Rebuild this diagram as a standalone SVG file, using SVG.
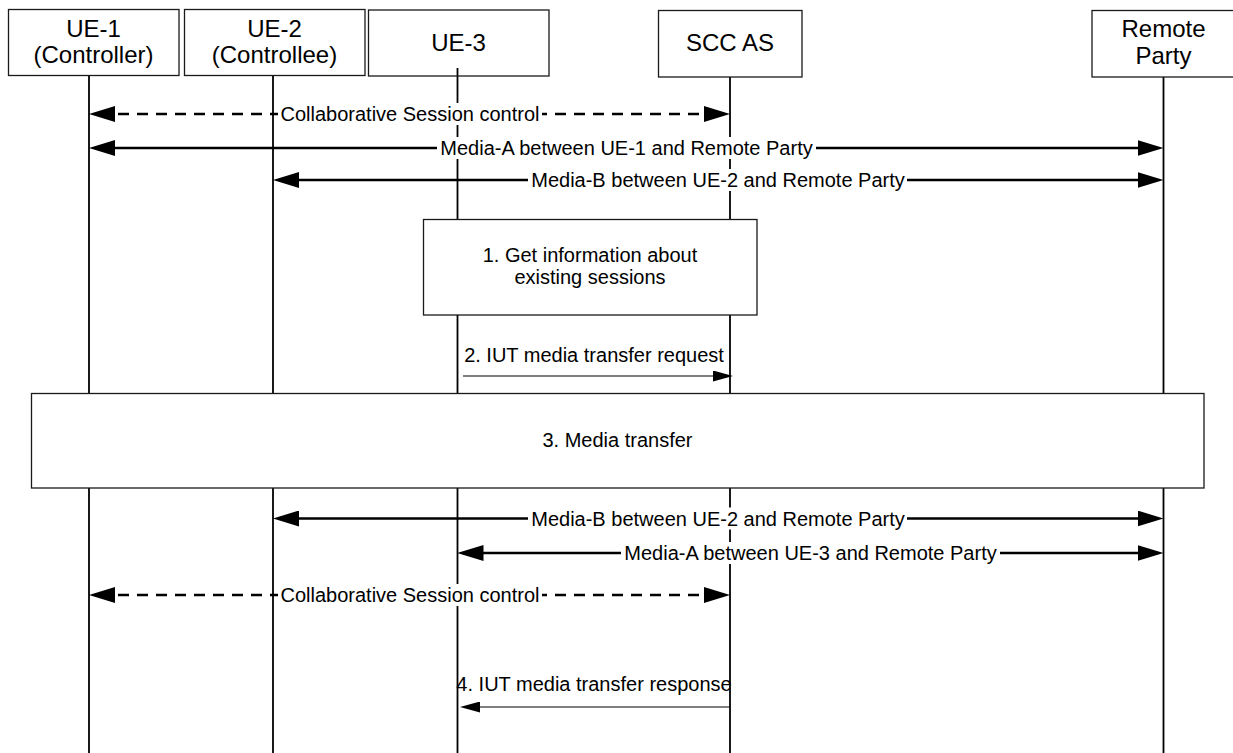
<svg xmlns="http://www.w3.org/2000/svg" width="1233" height="753" viewBox="0 0 1233 753">
  <style>
    .hdr { fill: #ffffff; stroke: #1a1a1a; stroke-width: 1.3; }
    .box { fill: #ffffff; stroke: #1a1a1a; stroke-width: 1.3; }
    .life { stroke: #000000; stroke-width: 1.8; fill: none; }
    .ht { font-family: "Liberation Sans", Arial, sans-serif; font-size: 24px; fill: #000000; text-anchor: middle; }
    .lt { font-family: "Liberation Sans", Arial, sans-serif; font-size: 20px; fill: #000000; text-anchor: middle; }
    .thick { stroke: #000000; stroke-width: 2.6; fill: none; }
    .dash { stroke: #000000; stroke-width: 2.6; fill: none; stroke-dasharray: 11 8; }
    .thin { stroke: #000000; stroke-width: 1.1; fill: none; }
    .bg { fill: #ffffff; stroke: none; }
    .big { marker-start: url(#ah); marker-end: url(#ah); }
    .small { marker-end: url(#as); }
  </style>
  <defs>
    <marker id="ah" markerUnits="userSpaceOnUse" markerWidth="26" markerHeight="16" viewBox="0 0 26 16" refX="16" refY="8" orient="auto-start-reverse">
      <path d="M0,0 L26,8 L0,16 Z" fill="#000000" stroke="none"/>
    </marker>
    <marker id="as" markerUnits="userSpaceOnUse" markerWidth="20" markerHeight="11" viewBox="0 0 20 11" refX="14" refY="5.5" orient="auto">
      <path d="M0,0 L20,5.5 L0,11 Z" fill="#000000" stroke="none"/>
    </marker>
  </defs>
  <rect x="0" y="0" width="1233" height="753" fill="#ffffff"/>

  <g id="lifelines">
    <line class="life" x1="89" y1="76" x2="89" y2="753"/>
    <line class="life" x1="273" y1="76" x2="273" y2="753"/>
    <line class="life" x1="457.5" y1="68" x2="457.5" y2="753"/>
    <line class="life" x1="730" y1="77" x2="730" y2="753"/>
    <line class="life" x1="1163.5" y1="77" x2="1163.5" y2="753"/>
  </g>

  <g id="ue1">
    <rect class="hdr" x="8.5" y="9.5" width="170.5" height="66"/>
    <text class="ht" x="93.5" y="37">UE-1</text>
    <text class="ht" x="93.5" y="63">(Controller)</text>
  </g>
  <g id="ue2">
    <rect class="hdr" x="184.5" y="9.5" width="180.5" height="66"/>
    <text class="ht" x="274.5" y="37">UE-2</text>
    <text class="ht" x="274.5" y="63">(Controllee)</text>
  </g>
  <g id="ue3">
    <rect class="hdr" x="368.5" y="10" width="180.5" height="66" style="fill:none"/>
    <text class="ht" x="458.5" y="51">UE-3</text>
  </g>
  <g id="sccas">
    <rect class="hdr" x="658.5" y="10.5" width="143.5" height="66.5"/>
    <text class="ht" x="730" y="51">SCC AS</text>
  </g>
  <g id="remote">
    <rect class="hdr" x="1092" y="10.5" width="150" height="66.5"/>
    <text class="ht" x="1163.5" y="37">Remote</text>
    <text class="ht" x="1163.5" y="64">Party</text>
  </g>

  <g id="connectors">
    <line class="dash big" x1="99" y1="114" x2="720" y2="114"/>
    <line class="thick big" x1="99" y1="148" x2="1153.5" y2="148"/>
    <line class="thick big" x1="283" y1="180" x2="1153.5" y2="180"/>
    <line class="thin small" x1="463" y1="376" x2="727" y2="376"/>
    <line class="thick big" x1="283" y1="518.5" x2="1153.5" y2="518.5"/>
    <line class="thick big" x1="467.5" y1="553" x2="1153.5" y2="553"/>
    <line class="dash big" x1="99" y1="595" x2="720" y2="595"/>
    <line class="thin small" x1="730" y1="707" x2="466" y2="707"/>

    <g id="labels">
      <rect class="bg" x="278" y="103" width="264" height="22"/>
      <text class="lt" x="410" y="121">Collaborative Session control</text>
      <rect class="bg" x="437" y="137" width="379" height="22"/>
      <text class="lt" x="626.5" y="155">Media-A between UE-1 and Remote Party</text>
      <rect class="bg" x="528" y="169" width="379" height="22"/>
      <text class="lt" x="718" y="187">Media-B between UE-2 and Remote Party</text>
      <text class="lt" x="594" y="362">2. IUT media transfer request</text>

      <rect class="bg" x="528" y="507.5" width="379" height="22"/>
      <text class="lt" x="718" y="525.5">Media-B between UE-2 and Remote Party</text>
      <rect class="bg" x="621" y="542" width="379" height="22"/>
      <text class="lt" x="810.5" y="560">Media-A between UE-3 and Remote Party</text>
      <rect class="bg" x="278" y="584" width="264" height="22"/>
      <text class="lt" x="410" y="602">Collaborative Session control</text>
      <text class="lt" x="594" y="691">4. IUT media transfer response</text>
    </g>
  </g>

  <g id="step1">
    <rect class="box" x="423.5" y="219.5" width="333.5" height="95.5"/>
    <text class="lt" x="590" y="262">1. Get information about</text>
    <text class="lt" x="590" y="284">existing sessions</text>
  </g>

  <g id="step3">
    <rect class="box" x="31.5" y="393.5" width="1172.5" height="94.5"/>
    <text class="lt" x="617.5" y="447">3. Media transfer</text>
  </g>
</svg>
